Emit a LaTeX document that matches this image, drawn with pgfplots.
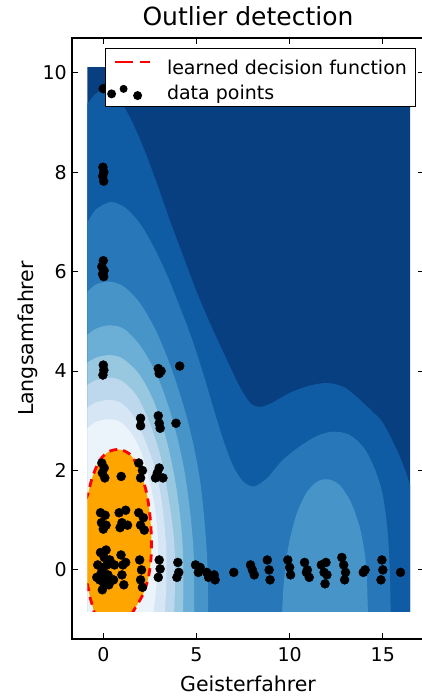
\documentclass[border=0pt]{standalone}
\usepackage{fontspec}
\setmainfont{DejaVu Sans}
\usepackage{pgfplots}
\pgfplotsset{compat=1.18}

% Blues_r bands of the decision function, lowest level first
\definecolor{lev1}{RGB}{8,63,129}
\definecolor{lev2}{RGB}{16,92,164}
\definecolor{lev3}{RGB}{40,120,185}
\definecolor{lev4}{RGB}{71,149,200}
\definecolor{lev5}{RGB}{107,174,214}
\definecolor{lev6}{RGB}{152,199,224}
\definecolor{lev7}{RGB}{189,215,236}
\definecolor{lev8}{RGB}{214,230,244}
\definecolor{lev9}{RGB}{236,244,251}
\definecolor{inlier}{RGB}{255,165,0}

\begin{document}
\begin{tikzpicture}
\useasboundingbox (0,0) rectangle (421pt,697pt);

% filled contour levels, clipped to the evaluation grid
\begin{axis}[
  at={(87.47pt,85.34pt)}, anchor=south west,
  scale only axis, width=322.55pt, height=543.83pt,
  xmin=-0.85, xmax=16.46, ymin=-0.84, ymax=10.1,
  hide axis, clip=true,
]
\addplot[fill=lev1, draw=none] coordinates {(-2,-2) (-2,12) (18,12) (18,-2)};
% level 1
\addplot[fill=lev2, draw=none, smooth] coordinates {
 (-2,-2) (-2,8.8) (-1.3,9.2) (-0.85,9.38) (-0.4,9.58) (0.2,9.66) (0.8,9.5)
 (1.5,9.05) (2.2,8.45) (2.9,7.75) (3.6,7.0) (4.3,6.3) (5.0,5.6) (5.8,4.9)
 (6.6,4.25) (7.3,3.7) (7.9,3.35) (8.4,3.28) (9.0,3.35) (10.0,3.56) (11.0,3.7)
 (12.0,3.76) (12.9,3.68) (13.6,3.48) (14.4,3.2) (15.0,2.96) (15.76,2.41)
 (16.2,2.0) (16.6,1.55) (17.2,0.8) (17.4,-2)};
% level 2
\addplot[fill=lev3, draw=none, smooth] coordinates {
 (-2,-2) (-2,6.5) (-1.3,6.85) (-0.85,7.0) (-0.4,7.25) (0.4,7.4) (1.2,7.28)
 (2.0,6.95) (2.7,6.5) (3.4,5.95) (4.1,5.3) (4.8,4.6) (5.4,3.9) (5.95,3.2)
 (6.45,2.6) (6.95,2.1) (7.5,1.78) (8.1,1.68) (8.8,1.85) (9.6,2.2) (10.6,2.5)
 (11.5,2.7) (12.3,2.78) (13.2,2.72) (14.0,2.45) (14.6,2.0) (15.0,1.5)
 (15.25,0.8) (15.37,0) (15.42,-0.84) (15.45,-1.4) (15.45,-2)};
% level 3, left and right lobes
\addplot[fill=lev4, draw=none, smooth] coordinates {
 (-2,-2) (-2,5.2) (-1.3,5.5) (-0.85,5.6) (-0.4,5.74) (0.3,5.8) (1.1,5.7)
 (2.0,5.35) (2.9,4.75) (3.8,3.9) (4.6,2.9) (5.15,1.9) (5.45,0.9) (5.6,0)
 (5.62,-0.84) (5.62,-1.4) (5.6,-2)};
\addplot[fill=lev4, draw=none, smooth] coordinates {
 (9.55,-2) (9.58,-1.3) (9.6,-0.84) (9.7,-0.2) (9.95,0.5) (10.35,1.1)
 (10.9,1.55) (11.5,1.78) (12.1,1.82) (12.7,1.7) (13.3,1.35) (13.8,0.8)
 (14.1,0.1) (14.2,-0.84) (14.25,-1.3) (14.25,-2)};
% level 4
\addplot[fill=lev5, draw=none, smooth] coordinates {
 (-2,-2) (-2,4.35) (-1.3,4.62) (-0.85,4.73) (-0.4,4.85) (0.3,4.92) (1.1,4.85)
 (2.0,4.5) (2.9,3.9) (3.7,3.05) (4.3,2.1) (4.65,1.2) (4.85,0.3) (4.88,-0.84)
 (4.88,-1.4) (4.85,-2)};
% level 5
\addplot[fill=lev6, draw=none, smooth] coordinates {
 (-2,-2) (-2,3.8) (-1.3,4.08) (-0.85,4.17) (-0.4,4.27) (0.3,4.32) (1.0,4.26)
 (1.9,3.95) (2.7,3.4) (3.4,2.6) (3.9,1.7) (4.2,0.8) (4.3,0) (4.28,-0.84)
 (4.25,-1.4) (4.2,-2)};
% level 6
\addplot[fill=lev7, draw=none, smooth] coordinates {
 (-2,-2) (-2,3.35) (-1.3,3.63) (-0.85,3.72) (-0.4,3.82) (0.3,3.87) (1.0,3.8)
 (1.8,3.5) (2.5,2.95) (3.1,2.25) (3.5,1.45) (3.8,0.6) (3.85,-0.2) (3.8,-0.84)
 (3.75,-1.4) (3.7,-2)};
% level 7
\addplot[fill=lev8, draw=none, smooth] coordinates {
 (-2,-2) (-2,2.9) (-1.3,3.18) (-0.85,3.27) (-0.4,3.37) (0.3,3.42) (1.0,3.35)
 (1.7,3.05) (2.3,2.55) (2.85,1.95) (3.2,1.2) (3.38,0.4) (3.38,-0.3)
 (3.3,-0.84) (3.2,-1.4) (3.15,-2)};
% level 8
\addplot[fill=lev9, draw=none, smooth] coordinates {
 (-2,-2) (-2,2.45) (-1.3,2.75) (-0.85,2.85) (-0.4,2.98) (0.3,3.03) (0.9,2.98)
 (1.5,2.75) (2.0,2.4) (2.4,1.9) (2.75,1.3) (2.93,0.6) (2.92,0.0) (2.8,-0.5)
 (2.7,-0.84) (2.6,-1.4) (2.55,-2)};
% inlier region (decision function >= 0)
\addplot[fill=inlier, draw=none, smooth] coordinates {
 (-2,0.9) (-1.3,1.15) (-0.85,1.5) (-0.6,1.85) (-0.2,2.2) (0.3,2.38) (0.9,2.42)
 (1.5,2.3) (2.0,1.95) (2.35,1.5) (2.55,0.9) (2.57,0.3) (2.42,-0.15)
 (2.12,-0.5) (1.6,-0.84) (1.1,-1.25) (0.3,-1.45) (-0.3,-1.25) (-0.5,-0.84)
 (-0.75,-0.5) (-0.85,-0.3) (-1.3,0.0) (-2,0.2)};
% decision boundary
\addplot[red, line width=2.8pt, dash pattern=on 8pt off 6pt, smooth] coordinates {
 (-1.3,1.15) (-0.85,1.5) (-0.6,1.85) (-0.2,2.2) (0.3,2.38) (0.9,2.42)
 (1.5,2.3) (2.0,1.95) (2.35,1.5) (2.55,0.9) (2.57,0.3) (2.42,-0.15)
 (2.12,-0.5) (1.6,-0.84) (1.1,-1.25)};
\addplot[red, line width=2.8pt, dash pattern=on 8pt off 6pt, smooth] coordinates {
 (-0.3,-1.25) (-0.5,-0.84) (-0.75,-0.5) (-0.85,-0.3) (-1.3,0.0)};
\end{axis}

\begin{axis}[
  at={(72pt,58pt)}, anchor=south west,
  scale only axis, width=352pt, height=601pt,
  xmin=-1.68, xmax=17.21, ymin=-1.39, ymax=10.7,
  xtick={0,5,10,15}, ytick={0,2,4,6,8,10},
  tick align=inside, major tick length=5.6pt,
  tick style={black, line width=1pt},
  axis line style={line width=1.4pt},
  /pgf/number format/assume math mode=true,
  tick label style={font=\fontsize{19}{22}\selectfont},
  xticklabel style={yshift=-4.7pt},
  yticklabel style={xshift=-1.7pt},
  title={Outlier detection},
  title style={at={(axis description cs:0.5,1.01)}, anchor=base,
    font=\fontsize{25}{30}\selectfont},
  xlabel={Geisterfahrer},
  xlabel style={at={(axis description cs:0.5,-0.0877)}, anchor=base,
    font=\fontsize{20.5}{24}\selectfont},
  ylabel={Langsamfahrer},
  ylabel style={at={(axis description cs:-0.1094,0.5)}, anchor=base,
    font=\fontsize{20.5}{24}\selectfont},
  legend style={at={(axis description cs:0.9773,0.9834)}, anchor=north east,
    draw=black, line width=1.2pt, fill=white,
    inner xsep=1.5pt, inner ysep=4pt, row sep=0pt, column sep=16pt,
    font=\fontsize{19}{22}\selectfont,
    nodes={inner sep=0pt, text height=22pt, text depth=3pt, draw=none},
    cells={anchor=base west}},
]
\addlegendimage{legend image code/.code={
  \path[draw=none, fill=none] (-4.5pt,-3pt) rectangle (38pt,20pt);
  \draw[red, line width=2.8pt, dash pattern=on 18pt off 7pt] (3pt,12.5pt) -- (38pt,12.5pt);}}
\addlegendentry{learned decision function\hspace*{7pt}}
\addlegendimage{legend image code/.code={
  \path[draw=none, fill=none] (-4.5pt,-3pt) rectangle (38pt,20pt);
  \fill[black, draw=none] (0pt,5.7pt) circle (4.5pt);
  \fill[black, draw=none] (12pt,10.7pt) circle (4pt);
  \fill[black, draw=none] (26pt,4pt) circle (4.5pt);}}
\addlegendentry{data points}

\addplot[only marks, mark=*, mark size=4.5pt, black, mark options={fill=black}] table {
x y
0.00 9.68
-0.02 8.10
0.03 8.00
-0.03 7.92
0.02 7.82
0.00 6.22
-0.08 6.10
0.04 6.02
-0.04 5.95
0.02 5.90
0.00 4.12
0.03 4.02
-0.02 3.92
-0.08 2.15
0.05 2.05
-0.05 1.95
0.08 1.85
-0.15 1.15
0.10 1.10
-0.10 0.95
0.15 0.90
0.00 0.82
-0.30 0.10
-0.20 -0.20
-0.15 0.35
-0.05 -0.40
0.00 0.05
0.05 0.25
0.10 -0.15
0.20 0.10
0.30 -0.30
0.35 0.20
-0.10 -0.05
0.15 0.40
0.25 -0.10
-0.35 -0.15
0.00 -0.25
0.60 0.10
0.55 -0.20
0.95 0.30
1.05 0.10
1.00 -0.10
1.10 -0.30
1.20 0.15
0.85 1.15
1.20 1.20
1.00 0.95
1.30 0.90
0.90 0.85
0.96 1.88
1.90 2.15
2.10 2.00
2.00 1.85
1.90 1.15
2.15 1.05
2.00 0.90
2.20 0.80
1.95 0.20
2.05 0.00
2.00 -0.20
2.10 -0.35
2.80 1.85
3.00 2.05
3.20 1.85
2.90 1.95
2.00 3.05
2.00 2.90
2.95 3.10
3.00 2.95
3.05 2.85
3.90 2.95
2.95 4.05
3.10 4.00
3.00 3.95
4.10 4.10
3.00 0.20
3.05 0.02
2.95 -0.15
4.00 0.15
4.05 -0.05
3.95 -0.15
4.95 0.10
5.10 -0.05
5.20 0.05
5.55 -0.05
5.65 -0.15
5.95 -0.10
6.00 -0.20
7.00 -0.05
7.90 0.10
8.10 -0.10
8.00 0.00
8.80 0.20
8.90 0.00
8.95 -0.20
9.90 0.20
10.00 0.05
10.05 -0.10
10.80 0.15
10.95 0.00
11.05 -0.15
10.90 -0.05
11.70 0.10
11.85 -0.05
11.95 0.15
11.90 -0.28
12.00 -0.10
12.80 0.25
12.90 0.10
13.00 -0.05
12.95 -0.20
13.95 -0.05
14.05 0.00
14.95 0.20
15.00 0.00
14.90 -0.20
15.95 -0.05
};
\end{axis}
\end{tikzpicture}
\end{document}
